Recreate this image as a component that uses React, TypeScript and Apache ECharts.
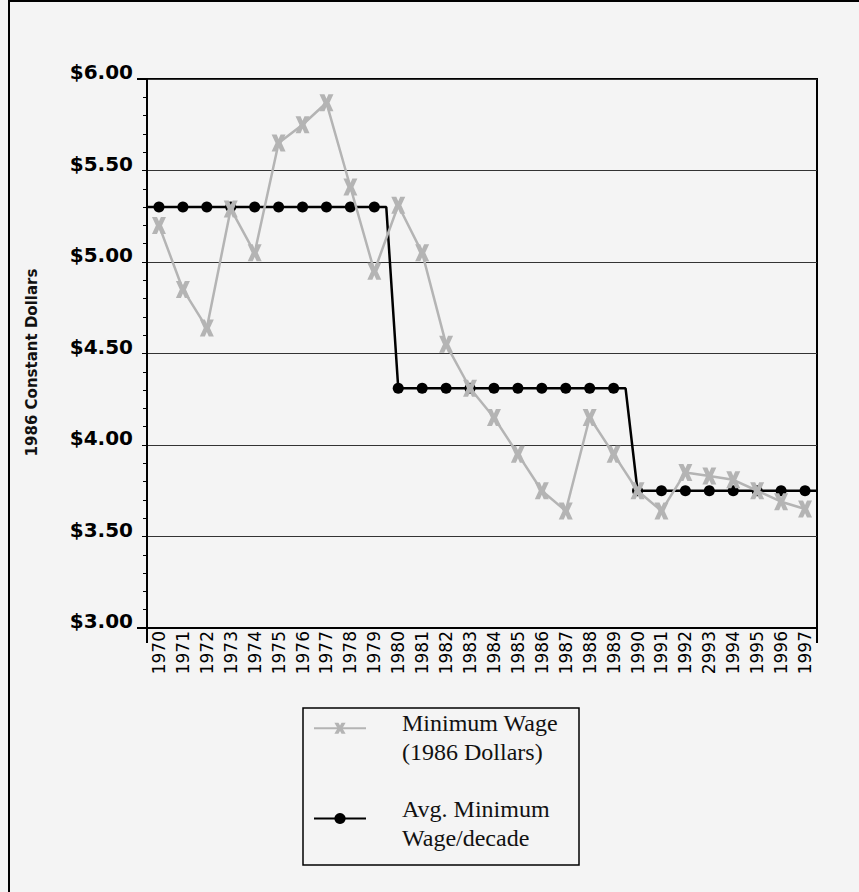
import React, { useEffect, useRef } from "react";
import * as echarts from "echarts";

// Year labels along the bottom axis (the source table prints 1993 as "2993")
const years = [
  "1970", "1971", "1972", "1973", "1974", "1975", "1976", "1977", "1978", "1979",
  "1980", "1981", "1982", "1983", "1984", "1985", "1986", "1987", "1988", "1989",
  "1990", "1991", "1992", "2993", "1994", "1995", "1996", "1997",
];

// Minimum wage in 1986 constant dollars
const minWage = [
  5.2, 4.85, 4.64, 5.29, 5.05, 5.65, 5.75, 5.87, 5.41, 4.95,
  5.31, 5.05, 4.55, 4.31, 4.15, 3.95, 3.75, 3.64, 4.15, 3.95,
  3.75, 3.64, 3.85, 3.83, 3.81, 3.75, 3.69, 3.65,
];

// Average minimum wage for each decade (1970s, 1980s, 1990s)
const decadeAvg = [5.3, 4.31, 3.75];
const yearsPerDecade = [10, 10, 8];

// Y axis range and tick step
const yMin = 3;
const yMax = 6;
const yStep = 0.5;

const minWageName = "Minimum Wage\n(1986 Dollars)";
const avgName = "Avg. Minimum\nWage/decade";

// Bold "X" marker
const xMarker =
  "path://M0,0 L3.6,0 L5,2.6 L6.4,0 L10,0 L7.2,5 L10,10 L6.4,10 L5,7.4 L3.6,10 L0,10 L2.8,5 Z";

export default function App() {
  const ref = useRef<HTMLDivElement>(null);

  useEffect(() => {
    document.body.style.margin = "0";
    document.body.style.background = "#f4f4f4";
    if (!ref.current) return;
    const chart = echarts.init(ref.current, undefined, { renderer: "svg" });

    // per-year decade average
    const avgWage: number[] = [];
    decadeAvg.forEach((v, d) => {
      for (let k = 0; k < yearsPerDecade[d]; k++) avgWage.push(v);
    });

    // step line: runs edge to edge, dropping at each decade boundary
    const avgPoints: any[] = [];
    avgWage.forEach((v, i) => {
      if (i === 0) avgPoints.push({ value: [0, v], symbol: "none" });
      else if (v !== avgWage[i - 1])
        avgPoints.push({ value: [i, avgWage[i - 1]], symbol: "none" });
      avgPoints.push([i + 0.5, v]);
    });
    avgPoints.push({ value: [years.length, avgWage[avgWage.length - 1]], symbol: "none" });

    const gl = 147;
    const gt = 79;
    const gr = 817;
    const gb = 628;

    chart.setOption({
      animation: false,
      backgroundColor: "#f4f4f4",
      grid: {
        left: gl,
        top: gt,
        right: 859 - gr,
        bottom: 892 - gb,
        show: true,
        borderColor: "#000",
        borderWidth: 2,
      },
      legend: {
        orient: "vertical",
        left: 313,
        top: 690,
        padding: 0,
        itemGap: 18.5,
        itemWidth: 52,
        itemHeight: 14,
        // a spacer line above each label sets where the text sits against its key
        formatter: (name: string) => {
          const spacer = name === minWageName ? "a" : "b";
          return `{${spacer}| }\n` + name.split("\n").map((l) => `{t|${l}}`).join("\n");
        },
        textStyle: {
          fontFamily: "Liberation Serif",
          fontSize: 24,
          lineHeight: 29,
          color: "#111",
          padding: [0, 0, 0, 31],
          rich: {
            a: { fontSize: 4, lineHeight: 18.5 },
            b: { fontSize: 4, lineHeight: 9 },
            t: {
              fontFamily: "Liberation Serif",
              fontSize: 24,
              lineHeight: 29,
              color: "#111",
            },
          },
        },
        data: [minWageName, avgName],
      },
      xAxis: [
        {
          type: "category",
          data: years,
          boundaryGap: true,
          axisLine: { lineStyle: { color: "#000", width: 2 } },
          axisTick: {
            interval: 0,
            length: 10,
            lineStyle: { color: "#888", width: 1 },
          },
          axisLabel: {
            interval: 0,
            rotate: 90,
            margin: 3,
            fontFamily: "DejaVu Sans",
            fontSize: 17,
            color: "#000",
          },
          splitLine: { show: false },
        },
        {
          type: "value",
          min: 0,
          max: years.length,
          show: false,
        },
      ],
      yAxis: {
        type: "value",
        min: yMin,
        max: yMax,
        interval: yStep,
        name: "1986 Constant Dollars",
        nameLocation: "middle",
        nameRotate: 90,
        nameGap: 108,
        nameTextStyle: {
          fontFamily: "DejaVu Sans",
          fontWeight: "bold",
          fontSize: 15,
          color: "#111",
          padding: [0, 18, 0, 0],
        },
        axisLine: { show: true, lineStyle: { color: "#000", width: 2 } },
        axisTick: { show: true, length: 5, lineStyle: { color: "#000", width: 1 } },
        minorTick: {
          show: true,
          splitNumber: 5,
          length: 4,
          lineStyle: { color: "#000", width: 1 },
        },
        axisLabel: {
          margin: 14,
          fontFamily: "DejaVu Sans",
          fontWeight: "bold",
          fontSize: 20,
          color: "#000",
          verticalAlign: "bottom",
          padding: [0, 0, -3, 0],
          formatter: (v: number) => "$" + v.toFixed(2),
        },
        splitLine: { show: true, lineStyle: { color: "#333", width: 1 } },
      },
      series: [
        {
          name: avgName,
          type: "line",
          xAxisIndex: 1,
          data: avgPoints,
          symbol: "circle",
          symbolSize: 11,
          showAllSymbol: true,
          lineStyle: { color: "#000", width: 2.5 },
          itemStyle: { color: "#000" },
          z: 2,
        },
        {
          name: minWageName,
          type: "line",
          xAxisIndex: 0,
          data: minWage,
          symbol: xMarker,
          symbolSize: [14, 17],
          showAllSymbol: true,
          lineStyle: { color: "#b4b4b4", width: 2.5 },
          itemStyle: { color: "#b4b4b4" },
          z: 3,
        },
      ],
      graphic: [
        // page frame
        { type: "line", shape: { x1: 9, y1: 0, x2: 9, y2: 892 }, style: { stroke: "#000", lineWidth: 2 } },
        { type: "line", shape: { x1: 8, y1: 1, x2: 859, y2: 1 }, style: { stroke: "#000", lineWidth: 2 } },
        // long ticks at the ends of the value range
        { type: "line", shape: { x1: gl - 10, y1: gt, x2: gl, y2: gt }, style: { stroke: "#000", lineWidth: 2 } },
        { type: "line", shape: { x1: gl - 10, y1: gb, x2: gl, y2: gb }, style: { stroke: "#000", lineWidth: 2 } },
        // axis ends running down into the year labels
        { type: "line", shape: { x1: gl, y1: gb, x2: gl, y2: gb + 15 }, style: { stroke: "#000", lineWidth: 2 } },
        { type: "line", shape: { x1: gr, y1: gb, x2: gr, y2: gb + 15 }, style: { stroke: "#000", lineWidth: 2 } },
        // legend box
        {
          type: "rect",
          shape: { x: 303, y: 708, width: 276, height: 157 },
          style: { fill: "none", stroke: "#000", lineWidth: 1.5 },
          z: -1,
        },
      ],
    });

    return () => chart.dispose();
  }, []);

  return <div ref={ref} style={{ width: 859, height: 892 }} />;
}
